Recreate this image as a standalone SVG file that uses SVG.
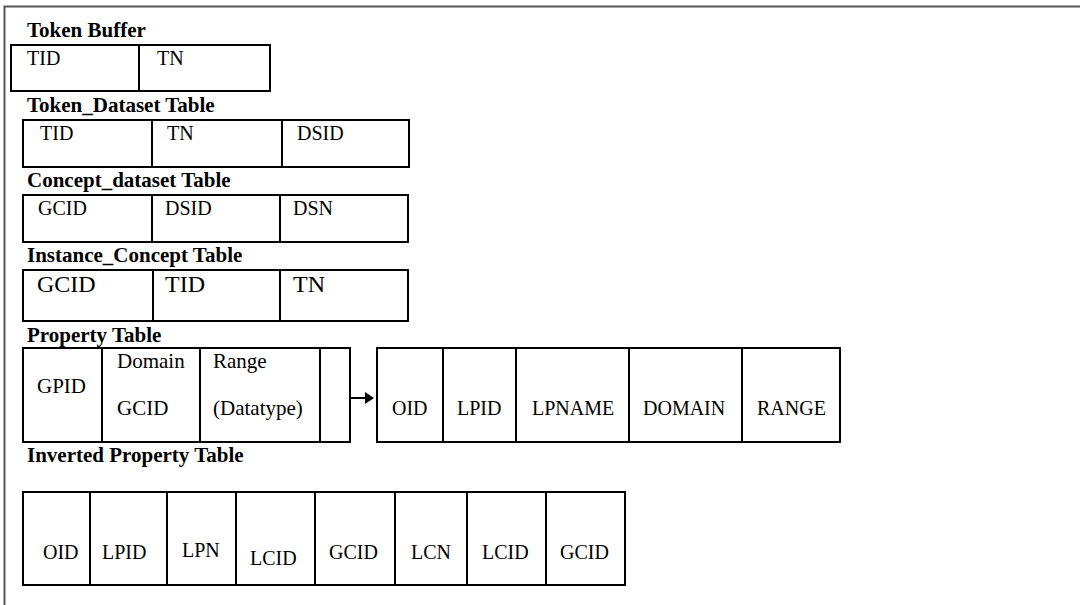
<svg xmlns="http://www.w3.org/2000/svg" width="1080" height="605" viewBox="0 0 1080 605">
<style>
.bg{fill:#ffffff}
.frame{fill:none;stroke:#555555;stroke-width:2}
.tbl{fill:none;stroke:#000000;stroke-width:2}
.div{stroke:#000000;stroke-width:2}
.h{font-family:"Liberation Serif","Times New Roman",serif;font-weight:bold;font-size:21px;fill:#000000}
.t{font-family:"Liberation Serif","Times New Roman",serif;font-size:20px;fill:#000000}
.tl{font-family:"Liberation Serif","Times New Roman",serif;font-size:24px;fill:#000000}
.tp{font-family:"Liberation Serif","Times New Roman",serif;font-size:21px;fill:#000000}
.conn{stroke:#000000;stroke-width:2;fill:none}
</style>
<defs>
<marker id="ah" viewBox="0 0 9 12" markerWidth="9" markerHeight="12" refX="0" refY="6" markerUnits="userSpaceOnUse" orient="auto">
<path d="M0,0 L9,6 L0,12 Z" fill="#000000"/>
</marker>
</defs>
<rect class="bg" x="0" y="0" width="1080" height="605"/>
<path class="frame" d="M4.5,605 V6.5 H1080"/>

<g id="token-buffer">
<text class="h" x="27" y="37">Token Buffer</text>
<rect class="tbl" x="11" y="45" width="259" height="46"/>
<line class="div" x1="139" y1="45" x2="139" y2="91"/>
<text class="t" x="27" y="65">TID</text>
<text class="t" x="157" y="65">TN</text>
</g>

<g id="token-dataset-table">
<text class="h" x="27" y="112">Token_Dataset Table</text>
<rect class="tbl" x="23" y="120" width="386" height="47"/>
<line class="div" x1="152" y1="120" x2="152" y2="167"/>
<line class="div" x1="282" y1="120" x2="282" y2="167"/>
<text class="t" x="40" y="140">TID</text>
<text class="t" x="167" y="140">TN</text>
<text class="t" x="297" y="140">DSID</text>
</g>

<g id="concept-dataset-table">
<text class="h" x="27" y="187">Concept_dataset Table</text>
<rect class="tbl" x="23" y="195" width="385" height="47"/>
<line class="div" x1="152" y1="195" x2="152" y2="242"/>
<line class="div" x1="280" y1="195" x2="280" y2="242"/>
<text class="t" x="38" y="215">GCID</text>
<text class="t" x="165" y="215">DSID</text>
<text class="t" x="293" y="215">DSN</text>
</g>

<g id="instance-concept-table">
<text class="h" x="27" y="262">Instance_Concept Table</text>
<rect class="tbl" x="23" y="270" width="385" height="51"/>
<line class="div" x1="153" y1="270" x2="153" y2="321"/>
<line class="div" x1="280" y1="270" x2="280" y2="321"/>
<text class="tl" x="37" y="292">GCID</text>
<text class="tl" x="165" y="292">TID</text>
<text class="tl" x="293" y="292">TN</text>
</g>

<g id="property-table">
<text class="h" x="27" y="342">Property Table</text>
<rect class="tbl" x="23" y="348" width="327" height="94"/>
<line class="div" x1="102" y1="348" x2="102" y2="442"/>
<line class="div" x1="200" y1="348" x2="200" y2="442"/>
<line class="div" x1="320" y1="348" x2="320" y2="442"/>
<text class="tp" x="37" y="393">GPID</text>
<text class="tp" x="117" y="368">Domain</text>
<text class="tp" x="117" y="415">GCID</text>
<text class="tp" x="213" y="368">Range</text>
<text class="tp" x="213" y="415">(Datatype)</text>
</g>

<g id="local-property-table">
<rect class="tbl" x="377" y="348" width="463" height="94"/>
<line class="div" x1="443" y1="348" x2="443" y2="442"/>
<line class="div" x1="516" y1="348" x2="516" y2="442"/>
<line class="div" x1="629" y1="348" x2="629" y2="442"/>
<line class="div" x1="742" y1="348" x2="742" y2="442"/>
<text class="t" x="392" y="415">OID</text>
<text class="t" x="457" y="415">LPID</text>
<text class="t" x="532" y="415">LPNAME</text>
<text class="t" x="643" y="415">DOMAIN</text>
<text class="t" x="757" y="415">RANGE</text>
</g>

<g id="inverted-property-table">
<text class="h" x="27" y="462">Inverted Property Table</text>
<rect class="tbl" x="23" y="492" width="602" height="93"/>
<line class="div" x1="90" y1="492" x2="90" y2="585"/>
<line class="div" x1="167" y1="492" x2="167" y2="585"/>
<line class="div" x1="236" y1="492" x2="236" y2="585"/>
<line class="div" x1="315" y1="492" x2="315" y2="585"/>
<line class="div" x1="395" y1="492" x2="395" y2="585"/>
<line class="div" x1="467" y1="492" x2="467" y2="585"/>
<line class="div" x1="546" y1="492" x2="546" y2="585"/>
<text class="t" x="43" y="559">OID</text>
<text class="t" x="102" y="559">LPID</text>
<text class="t" x="182" y="557">LPN</text>
<text class="t" x="250" y="565">LCID</text>
<text class="t" x="329" y="559">GCID</text>
<text class="t" x="411" y="559">LCN</text>
<text class="t" x="482" y="559">LCID</text>
<text class="t" x="560" y="559">GCID</text>
</g>

<g id="connectors">
<line class="conn" x1="351" y1="398" x2="365" y2="398" marker-end="url(#ah)"/>
</g>
</svg>
